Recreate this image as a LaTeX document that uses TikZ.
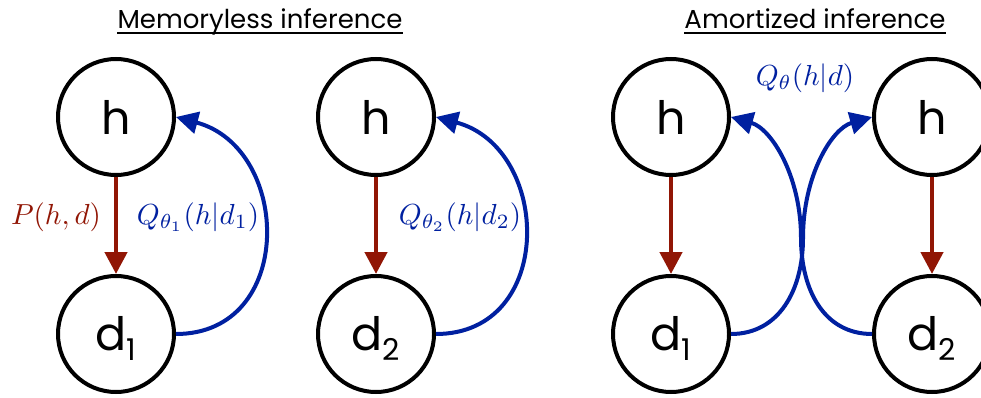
\RequirePackage{fix-cm}
\documentclass[tikz,border=0pt]{standalone}
\usepackage{fontspec}
\usepackage{graphicx}
\newfontfamily\pop{Poppins}
\usetikzlibrary{arrows.meta}
\definecolor{dred}{RGB}{145,22,5}
\definecolor{dblue}{RGB}{0,32,160}
\newcommand\dsub[1]{d\raisebox{-10pt}[0pt][0pt]{\fontsize{30}{30}\selectfont #1}}
\newcommand\bigmath[1]{\scalebox{2.9}{$#1$}}
\begin{document}
\begin{tikzpicture}[x=1pt,y=1pt,
 var/.style={circle, draw=black, line width=4pt, minimum size=116pt, inner sep=0pt, font=\pop\fontsize{46}{46}\selectfont},
 gen/.style={draw=dred, line width=4.5pt, -{Triangle[length=22pt,width=22pt]}},
 inf/.style={draw=dblue, line width=4pt, -{Triangle[length=22pt,width=22pt]}},
 ttl/.style={font=\pop\fontsize{26}{26}\selectfont, inner sep=0pt, anchor=base},
 lab/.style={inner sep=0pt}]
\useasboundingbox (0,0) rectangle (981,-398);
% titles
\node[ttl] (t1) at (260,-29) {Memoryless inference};
\draw[line width=1.6pt] ([yshift=-4pt]t1.base west) -- ([yshift=-4pt]t1.base east);
\node[ttl] (t2) at (815,-29) {Amortized inference};
\draw[line width=1.6pt] ([yshift=-4pt]t2.base west) -- ([yshift=-4pt]t2.base east);
% nodes
\node[var] (h1) at (116,-117) {h};
\node[var] (d1) at (116,-334) {\dsub{1}};
\node[var] (h2) at (376,-117) {h};
\node[var] (d2) at (376,-334) {\dsub{2}};
\node[var] (h3) at (671,-117) {h};
\node[var] (d3) at (671,-334) {\dsub{1}};
\node[var] (h4) at (932,-117) {h};
\node[var] (d4) at (932,-334) {\dsub{2}};
% generative arrows
\draw[gen] (h1) -- (d1);
\draw[gen] (h2) -- (d2);
\draw[gen] (h3) -- (d3);
\draw[gen] (h4) -- (d4);
% inference arcs
\draw[inf] (d1.east) .. controls +(0:120) and +(-15:120) .. (h1.east);
\draw[inf] (d2.east) .. controls +(0:120) and +(-15:120) .. (h2.east);
\coordinate (xa) at (803,-238);
\coordinate (xb) at (801,-238);
\draw[inf] (d3.east) .. controls +(0:48) and +(-90:52) .. (xa) .. controls +(90:62) and +(196:42) .. (h4.west);
\draw[inf] (d4.west) .. controls +(180:48) and +(-90:52) .. (xb) .. controls +(90:62) and +(-16:42) .. (h3.east);
% labels
\node[lab, text=dred] (p) at (56,-217) {\bigmath{P(h,d)}};
\node[lab, text=dblue] (q1) at (198,-217) {\bigmath{Q_{\theta_1}(h|d_1)}};
\node[lab, text=dblue] (q2) at (460,-217) {\bigmath{Q_{\theta_2}(h|d_2)}};
\node[lab, text=dblue] (q3) at (805,-78) {\bigmath{Q_{\theta}(h|d)}};
\end{tikzpicture}
\end{document}
